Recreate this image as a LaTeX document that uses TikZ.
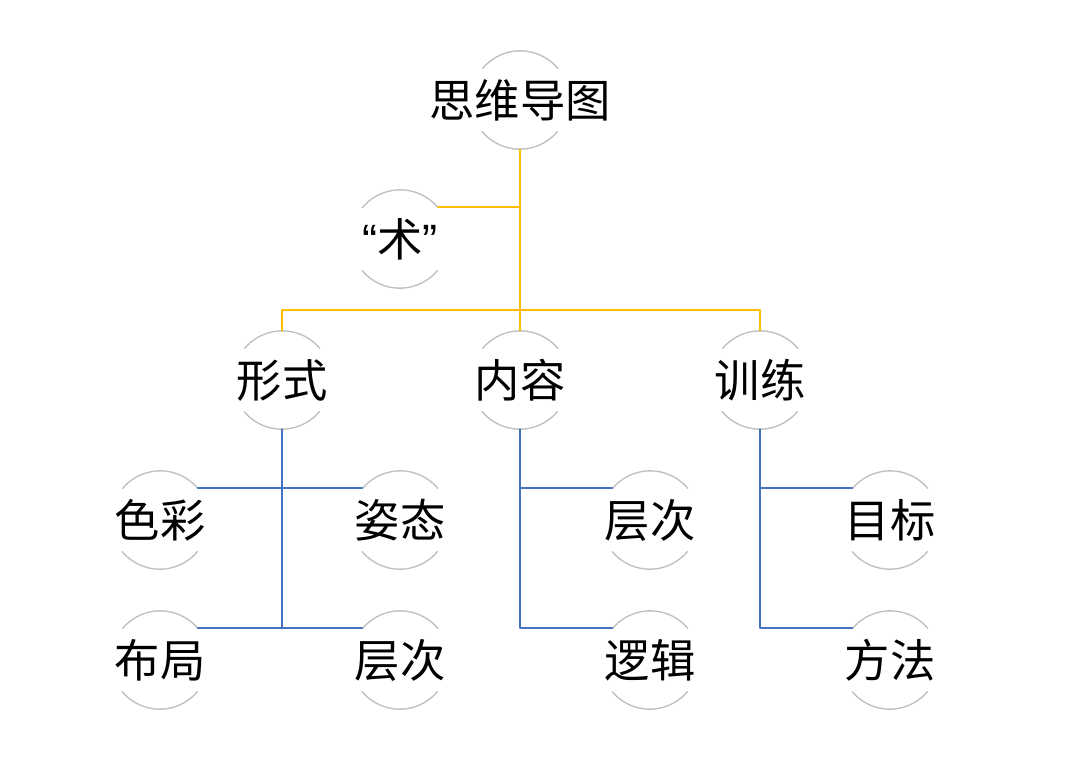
\documentclass[tikz,border=0pt]{standalone}
\usepackage{fontspec}
\setmainfont{Noto Sans CJK SC}
\newfontfamily\quotefont{Liberation Sans}
\definecolor{ffcqqq}{rgb}{1,0.75,0}
\definecolor{ddhhww}{rgb}{0.27,0.45,0.77}
\definecolor{cqcqcq}{rgb}{0.75,0.75,0.75}
\newcommand{\zw}[1]{\makebox[0pt]{#1}}
\tikzset{
  bubble/.style={circle,minimum size=73.5pt,inner sep=0pt,font=\fontsize{34pt}{36pt}\selectfont},
  ring/.style={color=cqcqcq,line width=1pt},
  trunk/.style={color=ffcqqq,line width=1.4pt},
  twig/.style={color=ddhhww,line width=1.4pt}
}
\begin{document}
\begin{tikzpicture}[line cap=round,line join=round,x=0.75pt,y=-0.75pt]
\useasboundingbox (0,0) rectangle (1080,765);
% nodes
\node[bubble] (root) at (520,100) {\zw{思维导图}};
\node[bubble] (shu) at (400,239) {\zw{{\quotefont “}术{\quotefont ”}}};
\node[bubble] (xingshi) at (282,380) {\zw{形式}};
\node[bubble] (neirong) at (520,380) {\zw{内容}};
\node[bubble] (xunlian) at (760,380) {\zw{训练}};
\node[bubble] (secai) at (160,520) {\zw{色彩}};
\node[bubble] (zitai) at (400,520) {\zw{姿态}};
\node[bubble] (buju) at (160,660) {\zw{布局}};
\node[bubble] (cengci) at (400,660) {\zw{层次}};
\node[bubble] (cengcib) at (650,520) {\zw{层次}};
\node[bubble] (luoji) at (650,660) {\zw{逻辑}};
\node[bubble] (mubiao) at (890,520) {\zw{目标}};
\node[bubble] (fangfa) at (890,660) {\zw{方法}};
\foreach \n in {root,shu,xingshi,neirong,xunlian,secai,zitai,buju,cengci,cengcib,luoji,mubiao,fangfa}
{
\draw [ring] (\n.40) arc (40:140:36.75pt);
\draw [ring] (\n.220) arc (220:320:36.75pt);
}
% yellow
\coordinate (bus) at (520,310);
\draw [trunk] (root.south) -- (neirong.north);
\draw [trunk] (shu.40) -- (shu.40 -| root.south);
\draw [trunk] (xingshi.north) -- (xingshi.north |- bus) -- (xunlian.north |- bus) -- (xunlian.north);
% blue
\draw [twig] (xingshi.south) -- (xingshi.south |- buju.40);
\draw [twig] (secai.40) -- (zitai.140);
\draw [twig] (buju.40) -- (cengci.140);
\draw [twig] (neirong.south) |- (luoji.140);
\draw [twig] (neirong.south |- cengcib.140) -- (cengcib.140);
\draw [twig] (xunlian.south) |- (fangfa.140);
\draw [twig] (xunlian.south |- mubiao.140) -- (mubiao.140);
\end{tikzpicture}
\end{document}
